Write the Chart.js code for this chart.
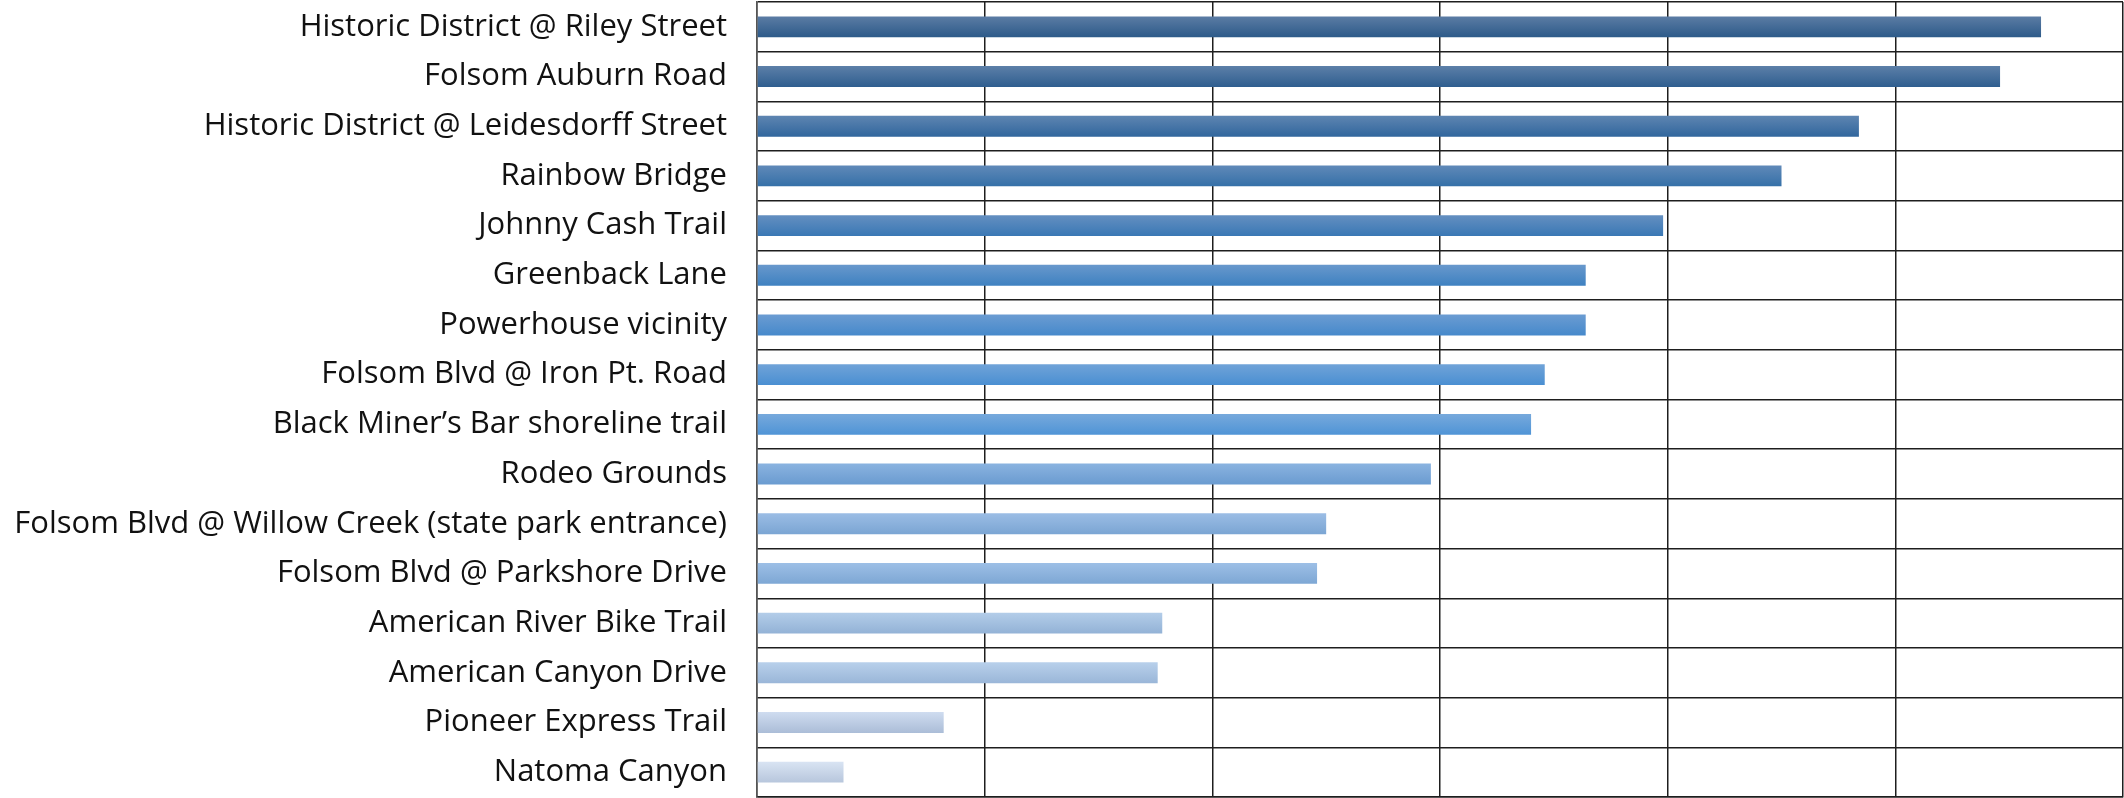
<!DOCTYPE html>
<html>
<head>
<meta charset="utf-8">
<script src="https://cdn.jsdelivr.net/npm/chart.js@4.4.1/dist/chart.umd.min.js"></script>
<style>
  html, body { margin: 0; padding: 0; background: #fff; }
  #wrap { width: 2124px; height: 798px; }
</style>
</head>
<body>
<div id="wrap"><canvas id="chart" width="2124" height="798"></canvas></div>
<script>
const locations = [
  'Historic District @ Riley Street',
  'Folsom Auburn Road',
  'Historic District @ Leidesdorff Street',
  'Rainbow Bridge',
  'Johnny Cash Trail',
  'Greenback Lane',
  'Powerhouse vicinity',
  'Folsom Blvd @ Iron Pt. Road',
  'Black Miner\u2019s Bar shoreline trail',
  'Rodeo Grounds',
  'Folsom Blvd @ Willow Creek (state park entrance)',
  'Folsom Blvd @ Parkshore Drive',
  'American River Bike Trail',
  'American Canyon Drive',
  'Pioneer Express Trail',
  'Natoma Canyon'
]

const counts = [282, 273, 242, 225, 199, 182, 182, 173, 170, 148, 125, 123, 89, 88, 41, 19]

const xTicks = [0, 50, 100, 150, 200, 250, 300]

// gradient colours per bar, top -> bottom
const topColors = ['#5b7ca4', '#5c7fa8', '#5e85b1', '#6089b8', '#648fc0', '#6898cc', '#6b9cd2', '#70a3d8', '#77a9dc', '#8ab3e0', '#9bbde5', '#9dbfe6', '#b3cde9', '#b8d0eb', '#cfdcf0', '#d9e4f3']
const bottomColors = ['#2d5a89', '#2f5e8f', '#31669d', '#3570a8', '#3a78b5', '#3e81c1', '#4689cb', '#4a8fd2', '#4f94d6', '#6a9bd0', '#7ba5d3', '#7da7d4', '#93b2d6', '#9ab6d8', '#abbdd7', '#b7c6dc']

function barGradient(context) {
  const chart = context.chart
  const i = context.dataIndex
  const yScale = chart.scales.y
  if (!yScale || i === undefined) return bottomColors[0]
  const center = yScale.getPixelForValue(i)
  const half = (yScale.bottom - yScale.top) / locations.length * 0.42 / 2
  if (!isFinite(center) || !isFinite(half) || half <= 0) return bottomColors[i]
  const g = chart.ctx.createLinearGradient(0, center - half, 0, center + half)
  g.addColorStop(0, topColors[i])
  g.addColorStop(1, bottomColors[i])
  return g
}

const ctx = document.getElementById('chart')

new Chart(ctx, {
  type: 'bar',
  data: {
    labels: locations,
    datasets: [
      {
        label: 'Count',
        data: counts,
        backgroundColor: barGradient,
        borderWidth: 0,
        categoryPercentage: 1,
        barPercentage: 0.42
      }
    ]
  },
  options: {
    indexAxis: 'y',
    responsive: false,
    animation: false,
    layout: { padding: { top: 2, right: 1, bottom: 1, left: 0 } },
    plugins: {
      legend: { display: false },
      tooltip: { enabled: false }
    },
    scales: {
      x: {
        min: xTicks[0],
        max: xTicks[xTicks.length - 1],
        afterBuildTicks: (axis) => { axis.ticks = xTicks.map(v => ({ value: v })) },
        ticks: { display: false },
        grid: { color: '#1e1e1e', lineWidth: 1.5, drawTicks: false },
        border: { color: '#1e1e1e', width: 1.5 },
        afterFit: (axis) => { axis.height = 0; axis.paddingLeft = 0; axis.paddingRight = 0 }
      },
      y: {
        grid: { color: '#1e1e1e', lineWidth: 1.5, drawTicks: false, offset: true },
        border: { color: '#555', width: 1.5 },
        ticks: {
          color: '#111',
          padding: 30,
          font: { family: 'Open Sans', size: 31 }
        },
        afterFit: (axis) => {
          axis.width = 757
          axis.paddingTop = 0
          axis.paddingBottom = 0
        }
      }
    }
  }
})
</script>
</body>
</html>
